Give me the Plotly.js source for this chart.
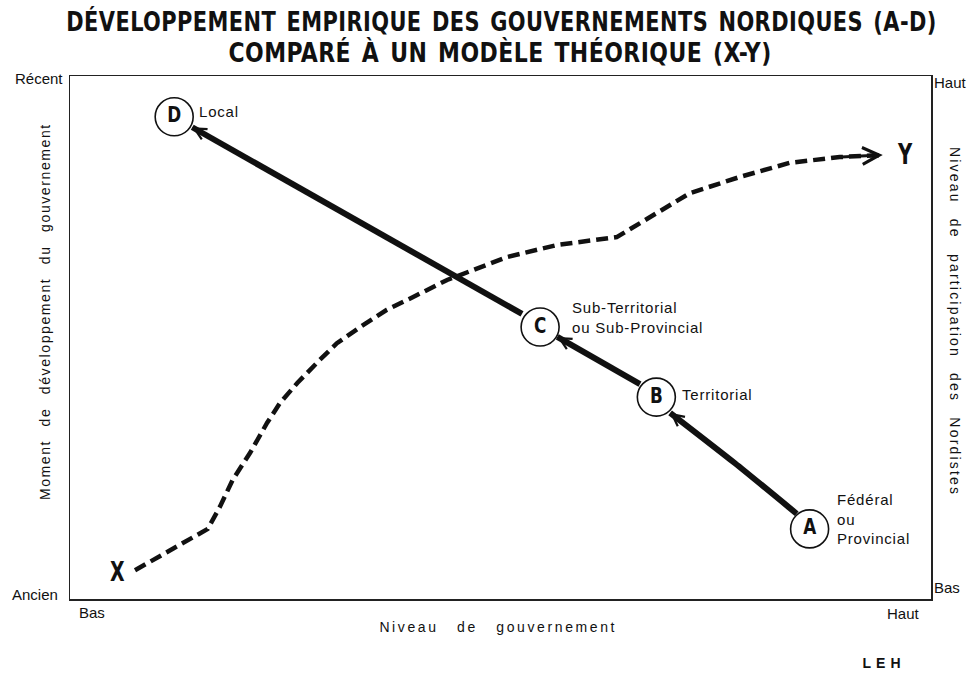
<!DOCTYPE html>
<html>
<head>
<meta charset="utf-8">
<script src="https://cdn.plot.ly/plotly-3.0.1.min.js"></script>
<style>
html,body{margin:0;padding:0;background:#fff;}
#chart{width:971px;height:674px;}
.textpoint text{transform:scaleX(0.85);transform-box:fill-box;transform-origin:center;}
</style>
</head>
<body>
<div id="chart"></div>
<script>
// ---- Data (0–100 scale on both axes) ----
const titleLines = ['DÉVELOPPEMENT EMPIRIQUE DES GOUVERNEMENTS NORDIQUES (A-D)', 'COMPARÉ À UN MODÈLE THÉORIQUE (X-Y)'];
const xTitle = 'Niveau de gouvernement';
const yTitle = 'Moment de développement du gouvernement';
const y2Title = 'Niveau de participation des Nordistes';
const xEnds = ['Bas', 'Haut'];
const yEnds = ['Ancien', 'Récent'];
const y2Ends = ['Bas', 'Haut'];

// theoretical model X -> Y (dashed)
const modelX = [7.55, 16.0, 17.4, 18.9, 20.9, 22.9, 24.4, 26.4, 29.0, 31.0, 33.7, 36.8, 39.8, 43.8, 50.8, 56.6, 63.5, 66.2, 72.0, 77.8, 83.6, 89.4, 94.4];
const modelY = [5.5, 13.4, 17.6, 22.8, 27.9, 33.7, 37.5, 41.3, 45.7, 48.9, 52.0, 55.3, 57.7, 61.0, 65.4, 67.7, 69.2, 71.9, 77.6, 80.7, 83.4, 84.5, 84.9];
const modelEnds = ['X', 'Y'];

// empirical development A -> D (solid arrows)
const nodeLetters = ['A', 'B', 'C', 'D'];
const nodeX = [85.9, 68.1, 54.6, 12.1];
const nodeY = [13.4, 38.6, 52.0, 92.2];
const nodeNames = ['Fédéral<br>ou<br>Provincial', 'Territorial', 'Sub-Territorial<br>ou Sub-Provincial', 'Local'];

const segAB_X = [84.4, 77.2, 69.7];
const segAB_Y = [16.3, 26.0, 35.6];
const segBC_X = [66.2, 56.6];
const segBC_Y = [41.1, 50.1];
const segCD_X = [52.5, 14.2];
const segCD_Y = [54.5, 90.2];
const credit = 'LEH';

// ---- Styles ----
const ink = '#111';
const narrow = '"Liberation Sans Narrow", "DejaVu Sans Condensed", "Arial Narrow", "DejaVu Sans", sans-serif';
const sans = '"Liberation Sans", Arial, Helvetica, sans-serif';

const traces = [
  {x: modelX, y: modelY, mode: 'lines', type: 'scatter', hoverinfo: 'skip',
   line: {color: ink, width: 4.5, dash: '12px,6px'}},
  {x: segAB_X, y: segAB_Y, mode: 'lines', type: 'scatter', hoverinfo: 'skip',
   line: {color: ink, width: 6, shape: 'spline', smoothing: 0.6}},
  {x: segBC_X, y: segBC_Y, mode: 'lines', type: 'scatter', hoverinfo: 'skip',
   line: {color: ink, width: 6}},
  {x: segCD_X, y: segCD_Y, mode: 'lines', type: 'scatter', hoverinfo: 'skip',
   line: {color: ink, width: 6}},
  {x: nodeX, y: nodeY, mode: 'markers+text', type: 'scatter', hoverinfo: 'skip',
   text: nodeLetters, textposition: 'middle center',
   textfont: {family: narrow, size: 22, color: ink, weight: 'bold'},
   marker: {symbol: 'circle', size: 38, color: '#fff', line: {color: ink, width: 1.6}}}
];

const anns = [];
const rules = [];
function add(a, css) {
  if (css) rules.push('.annotation[data-index="' + anns.length + '"] text{' + css + '}');
  anns.push(Object.assign({showarrow: false}, a));
}
const squeeze = function (s) { return 'transform:scaleX(' + s + ');transform-box:fill-box;transform-origin:center;'; };

// title lines
add({text: '<b>' + titleLines[0] + '</b>', xref: 'paper', yref: 'paper', x: 0.5017, y: 1.104, xanchor: 'center', yanchor: 'middle',
     font: {family: narrow, size: 27, color: ink}}, 'letter-spacing:0.5px;word-spacing:3px;' + squeeze(0.862));
add({text: '<b>' + titleLines[1] + '</b>', xref: 'paper', yref: 'paper', x: 0.4993, y: 1.044, xanchor: 'center', yanchor: 'middle',
     font: {family: narrow, size: 27, color: ink}}, 'letter-spacing:0.5px;word-spacing:3px;' + squeeze(0.905));

// axis titles
add({text: xTitle, xref: 'paper', yref: 'paper', x: 0.498, y: -0.0535, xanchor: 'center', yanchor: 'middle',
     font: {family: sans, size: 14, color: ink}}, 'letter-spacing:2.6px;word-spacing:12px;');
add({text: yTitle, xref: 'paper', yref: 'paper', x: -0.029, y: 0.549, xanchor: 'center', yanchor: 'middle', textangle: -90,
     font: {family: sans, size: 14, color: ink}}, 'letter-spacing:1.6px;word-spacing:8px;');
add({text: y2Title, xref: 'paper', yref: 'paper', x: 1.028, y: 0.530, xanchor: 'center', yanchor: 'middle', textangle: 90,
     font: {family: sans, size: 14, color: ink}}, 'letter-spacing:2.2px;word-spacing:9px;');

// axis end labels
const endFont = {family: sans, size: 15, color: ink};
add({text: yEnds[1], xref: 'paper', yref: 'paper', x: 0, y: 1, xanchor: 'right', yanchor: 'middle', align: 'right', xshift: -5, yshift: -2, font: endFont});
add({text: yEnds[0], xref: 'paper', yref: 'paper', x: 0, y: 0, xanchor: 'right', yanchor: 'middle', align: 'right', xshift: -10, yshift: 5, font: endFont});
add({text: y2Ends[1], xref: 'paper', yref: 'paper', x: 1, y: 1, xanchor: 'left', yanchor: 'middle', align: 'left', xshift: 1, yshift: -6, font: endFont});
add({text: y2Ends[0], xref: 'paper', yref: 'paper', x: 1, y: 0, xanchor: 'left', yanchor: 'middle', align: 'left', xshift: 1, yshift: 12, font: endFont});
add({text: xEnds[0], xref: 'paper', yref: 'paper', x: 0, y: 0, xanchor: 'left', yanchor: 'middle', align: 'left', xshift: 7, yshift: -13, font: endFont});
add({text: xEnds[1], xref: 'paper', yref: 'paper', x: 1, y: 0, xanchor: 'right', yanchor: 'middle', align: 'right', xshift: -9, yshift: -14, font: endFont});

// credit
add({text: '<b>' + credit + '</b>', xref: 'paper', yref: 'paper', x: 0.945, y: -0.122, xanchor: 'center', yanchor: 'middle',
     font: {family: sans, size: 14, color: ink}}, 'letter-spacing:5px;');

// node names
const nameShift = [[25, 10], [24, 3], [30, 10], [23, 5]];
nodeNames.forEach(function (t, i) {
  add({text: t, x: nodeX[i], y: nodeY[i], xref: 'x', yref: 'y', xanchor: 'left', yanchor: 'middle', align: 'left',
       xshift: nameShift[i][0], yshift: nameShift[i][1], font: {family: sans, size: 15, color: ink}}, 'letter-spacing:0.8px;');
});

// X / Y labels of the model
add({text: '<b>' + modelEnds[0] + '</b>', x: modelX[0], y: modelY[0], xref: 'x', yref: 'y', xanchor: 'center', yanchor: 'middle',
     xshift: -18, yshift: -1, font: {family: narrow, size: 27, color: ink}}, squeeze(0.78));
add({text: '<b>' + modelEnds[1] + '</b>', x: modelX[modelX.length - 1], y: modelY[modelY.length - 1], xref: 'x', yref: 'y', xanchor: 'center', yanchor: 'middle',
     xshift: 22, yshift: 0, font: {family: narrow, size: 28, color: ink}}, squeeze(0.78));

// arrowheads
function head(xs, ys, w, size) {
  const n = xs.length;
  anns.push({x: xs[n - 1], y: ys[n - 1], ax: xs[n - 2], ay: ys[n - 2], xref: 'x', yref: 'y', axref: 'x', ayref: 'y',
             showarrow: true, arrowhead: 5, arrowwidth: w, arrowsize: size, arrowcolor: ink, standoff: 0, text: ''});
}
head(segAB_X, segAB_Y, 2, 1.15);
head(segBC_X, segBC_Y, 2, 1.15);
head(segCD_X, segCD_Y, 2, 1.15);
head(modelX, modelY, 3, 1.1);

const st = document.createElement('style');
st.textContent = rules.join('\n');
document.head.appendChild(st);

const axisBase = {range: [0, 100], showgrid: false, zeroline: false, showticklabels: false, ticks: '',
                  showline: true, mirror: true, linecolor: '#222', linewidth: 1.5, fixedrange: true};

const layout = {
  width: 971, height: 674,
  margin: {l: 70, r: 40, t: 76, b: 75, pad: 0},
  paper_bgcolor: '#fff', plot_bgcolor: '#fff',
  showlegend: false,
  xaxis: Object.assign({}, axisBase),
  yaxis: Object.assign({}, axisBase),
  annotations: anns,
  font: {family: sans, color: ink}
};

Plotly.newPlot('chart', traces, layout, {staticPlot: true, displayModeBar: false});
</script>
</body>
</html>
